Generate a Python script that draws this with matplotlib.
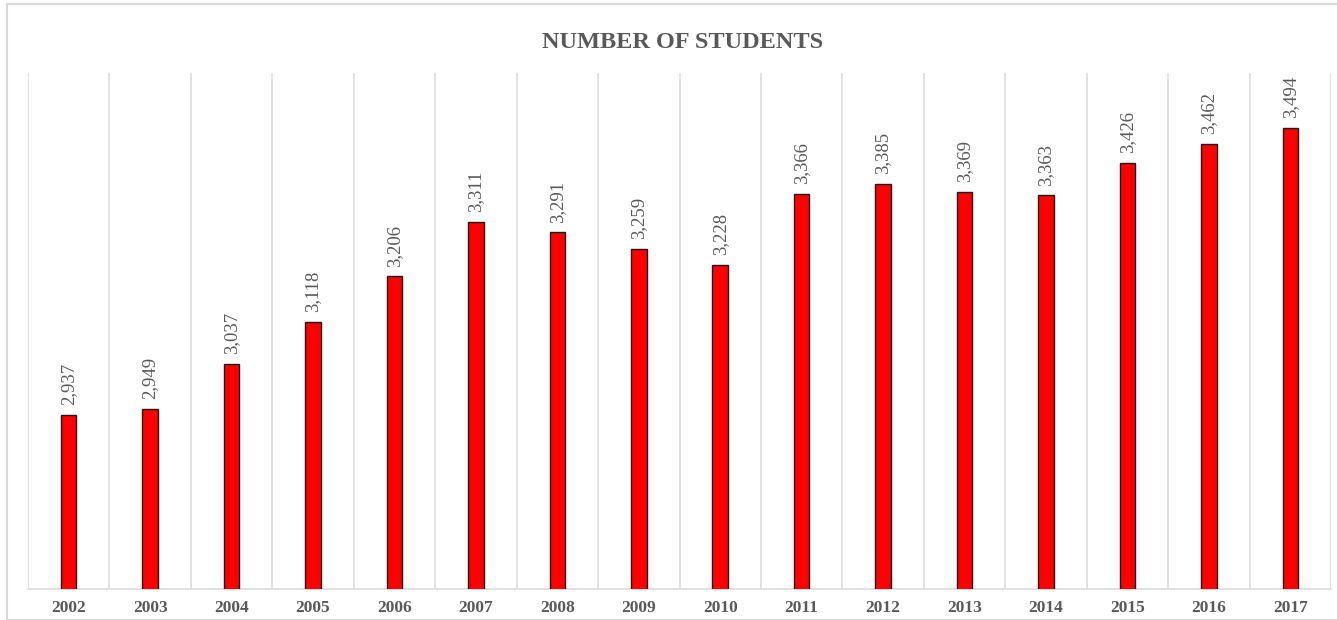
import matplotlib
matplotlib.use("Agg")
import matplotlib.pyplot as plt
from matplotlib.patches import Rectangle

# Datos del gráfico
years = ['2002', '2003', '2004', '2005', '2006', '2007', '2008', '2009',
         '2010', '2011', '2012', '2013', '2014', '2015', '2016', '2017']
students = [2937, 2949, 3037, 3118, 3206, 3311, 3291, 3259,
            3228, 3366, 3385, 3369, 3363, 3426, 3462, 3494]

text_gray = '#595959'
grid_gray = '#dcdcdc'

fig = plt.figure(figsize=(13.37, 6.2), dpi=100)
fig.patch.set_facecolor('white')

# Borde exterior del área del gráfico
fig.patches.append(Rectangle((7 / 1337, 0), 1.0, 1 - 4 / 620, transform=fig.transFigure,
                             fill=False, edgecolor='#d9d9d9', linewidth=1.5))

ax = fig.add_axes([28 / 1337, 1 - 589 / 620, (1331 - 28) / 1337, (589 - 73) / 620])

x = list(range(len(years)))
bars = ax.bar(x, students, width=0.19, color='#ff0000', edgecolor='#1a1a1a',
              linewidth=1.0, zorder=3)

ax.set_xlim(-0.5, len(years) - 0.5)
ax.set_ylim(2600, 3600)

# Líneas verticales entre categorías
for b in range(len(years) + 1):
    ax.axvline(b - 0.5, color=grid_gray, linewidth=1.2, zorder=1)

for s in ['top', 'right', 'left']:
    ax.spines[s].set_visible(False)
ax.spines['bottom'].set_color(grid_gray)
ax.spines['bottom'].set_linewidth(1.2)

ax.set_yticks([])
ax.set_xticks(x)
ax.set_xticklabels(years, fontfamily='Liberation Serif', fontweight='bold',
                   fontsize=12.5, color=text_gray)
ax.tick_params(axis='x', length=0, pad=8)

# Etiquetas de valores
for xi, v in zip(x, students):
    ax.annotate(f'{v:,}', xy=(xi, v), xytext=(0, 7), textcoords='offset points',
                rotation=90, ha='center', va='bottom', fontsize=13.5,
                fontfamily='Liberation Serif', color=text_gray)

fig.text(683 / 1337, 1 - 42 / 620, 'NUMBER OF STUDENTS', ha='center', va='center',
         fontsize=17.5, fontweight='bold', fontfamily='Liberation Serif', color=text_gray)

fig.savefig('out.png', dpi=100)
